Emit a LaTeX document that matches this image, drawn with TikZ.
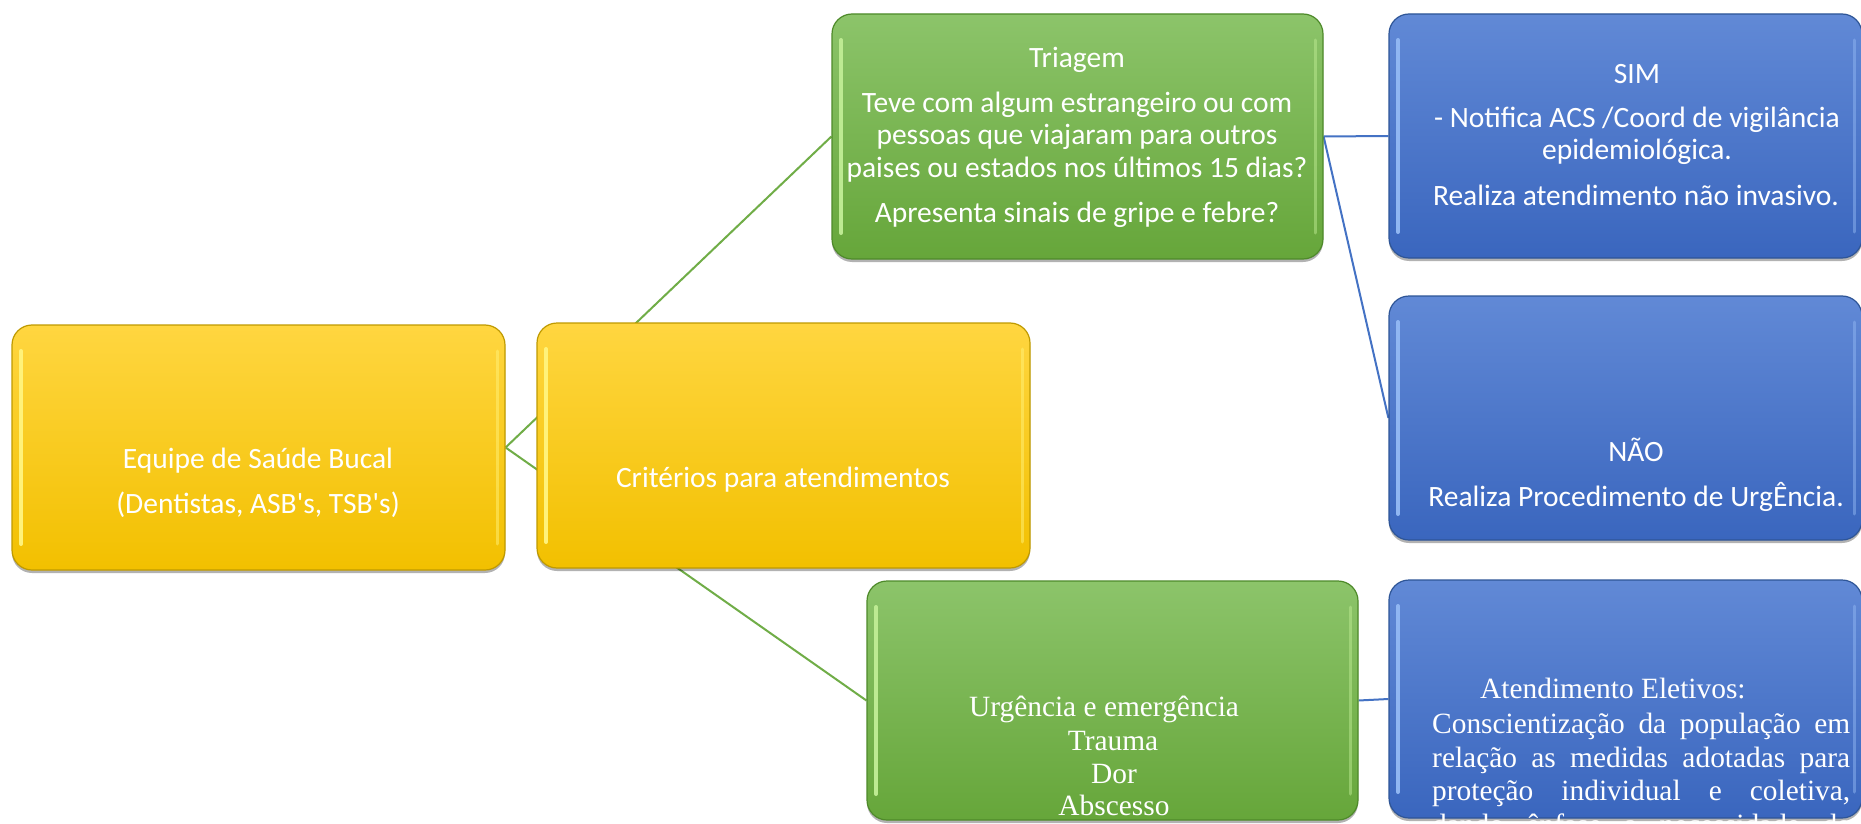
\documentclass[tikz,border=0pt]{standalone}
\usepackage{fontspec}
\setmainfont{Carlito}
\newfontfamily\tnr{Liberation Serif}
\usetikzlibrary{shadows}
\pgfdeclarelayer{bg}
\pgfsetlayers{bg,main}
\definecolor{ytop}{HTML}{FFD640}
\definecolor{ymid}{HTML}{FFCC00}
\definecolor{ybot}{HTML}{F2C000}
\definecolor{ydark}{HTML}{BF9A00}
\definecolor{ylight}{HTML}{FFF27A}
\definecolor{gtop}{HTML}{8CC46A}
\definecolor{gmid}{HTML}{72B244}
\definecolor{gbot}{HTML}{66A63A}
\definecolor{gdark}{HTML}{4E8A2A}
\definecolor{glight}{HTML}{BDEA92}
\definecolor{btop}{HTML}{6189D6}
\definecolor{bmid}{HTML}{4472C4}
\definecolor{bbot}{HTML}{3A66BE}
\definecolor{bdark}{HTML}{2E5597}
\definecolor{blight}{HTML}{90B6F2}
\definecolor{lgreen}{HTML}{70AD47}
\definecolor{lblue}{HTML}{4472C4}
\tikzset{
  box/.style={rounded corners=20pt, inner sep=0pt, line width=1.2pt,
    drop shadow={shadow xshift=0pt, shadow yshift=-3pt, opacity=0.3, fill=black}},
  bevel/.style={path picture={
    \draw[line width=4pt, line cap=round, draw=#1]
      ([shift={(9pt,-26pt)}]path picture bounding box.north west) --
      ([shift={(9pt,26pt)}]path picture bounding box.south west);
    \draw[line width=3pt, line cap=round, draw=#1, opacity=0.5]
      ([shift={(-8pt,-26pt)}]path picture bounding box.north east) --
      ([shift={(-8pt,26pt)}]path picture bounding box.south east);}},
  ybox/.style={box, draw=ydark, top color=ytop, middle color=ymid, bottom color=ybot, bevel=ylight},
  gbox/.style={box, draw=gdark, top color=gtop, middle color=gmid, bottom color=gbot, bevel=glight},
  bbox/.style={box, draw=bdark, top color=btop, middle color=bmid, bottom color=bbot, bevel=blight},
  txt/.style={text=white, inner sep=0pt, font=\fontsize{29.5}{32}\selectfont},
  stxt/.style={text=white, inner sep=0pt, font=\tnr\fontsize{29.4}{33}\selectfont},
  gline/.style={draw=lgreen, line width=2pt},
  bline/.style={draw=lblue, line width=2pt},
}
\begin{document}
\begin{tikzpicture}[x=1pt,y=-1pt]
\useasboundingbox (0,0) rectangle (1861,824);
\begin{pgfonlayer}{bg}
\fill[white] (0,0) rectangle (1861,824);
\end{pgfonlayer}
\clip (0,0) rectangle (1861,824);

% boxes
\node[ybox, minimum width=493pt, minimum height=245pt] (A) at (258.5,447.5) {};
\node[gbox, minimum width=491pt, minimum height=245pt] (T) at (1077.5,136.5) {};
\node[bbox, minimum width=473pt, minimum height=244pt] (S) at (1625.5,136) {};
\node[bbox, minimum width=473pt, minimum height=244pt] (N) at (1625.5,418) {};
\node[gbox, minimum width=491pt, minimum height=239pt] (U) at (1112.5,700.5) {};
\node[bbox, minimum width=473pt, minimum height=238pt] (E) at (1625.5,699) {};
\node[ybox, minimum width=493pt, minimum height=245pt] (B) at (783.5,445.5) {};

% connectors
\begin{pgfonlayer}{bg}
\draw[gline] (A.east) -- (T.west);
\draw[gline] (A.east) -- (U.west);
\draw[bline] (T.east) -- (S.west);
\draw[bline] (T.east) -- (N.west);
\draw[bline] (U.east) -- (E.west);
\end{pgfonlayer}

% texts
\node[txt, anchor=base] (A1) at (258,468) {Equipe de Saúde Bucal};
\node[txt, anchor=base] (A2) at (258,513) {(Dentistas, ASB\textquotesingle s, TSB\textquotesingle s)};
\node[txt, anchor=base] (B1) at (783,487) {Critérios para atendimentos};

\node[txt, anchor=base] (T1) at (1077,68) {Triagem};
\node[txt, anchor=base] (T2) at (1077,113) {Teve com algum estrangeiro ou com};
\node[txt, anchor=base] (T3) at (1077,145) {pessoas que viajaram para outros};
\node[txt, anchor=base] (T4) at (1077,177) {paises ou estados nos últimos 15 dias?};
\node[txt, anchor=base] (T5) at (1077,222) {Apresenta sinais de gripe e febre?};

\node[txt, anchor=base] (S1) at (1637,84) {SIM};
\node[txt, anchor=base] (S2) at (1637,128) {- Notifica ACS /Coord de vigilância};
\node[txt, anchor=base] (S3) at (1637,160) {epidemiológica.};
\node[txt, anchor=base] (S4) at (1636,205) {Realiza atendimento não invasivo.};

\node[txt, anchor=base] (N1) at (1636,461) {NÃO};
\node[txt, anchor=base] (N2) at (1636,506) {Realiza Procedimento de UrgÊncia.};

\node[stxt, anchor=base] (U1) at (1104,716) {Urgência e emergência};
\node[stxt, anchor=base] (U2) at (1113,750) {Trauma};
\node[stxt, anchor=base] (U3) at (1114,783) {Dor};
\node[stxt, anchor=base] (U4) at (1114,815) {Abscesso};

\node[stxt, anchor=base west] (E1) at (1480,698) {Atendimento Eletivos:};
\node[stxt, anchor=base west] (E2) at (1432,733) {\makebox[418pt][s]{Conscientização da população em}};
\node[stxt, anchor=base west] (E3) at (1432,767) {\makebox[418pt][s]{relação as medidas adotadas para}};
\node[stxt, anchor=base west] (E4) at (1432,800) {\makebox[418pt][s]{proteção individual e coletiva,}};
\node[stxt, anchor=base west] (E5) at (1432,834) {\makebox[418pt][s]{dando ênfase a necessidade de}};
\end{tikzpicture}
\end{document}
